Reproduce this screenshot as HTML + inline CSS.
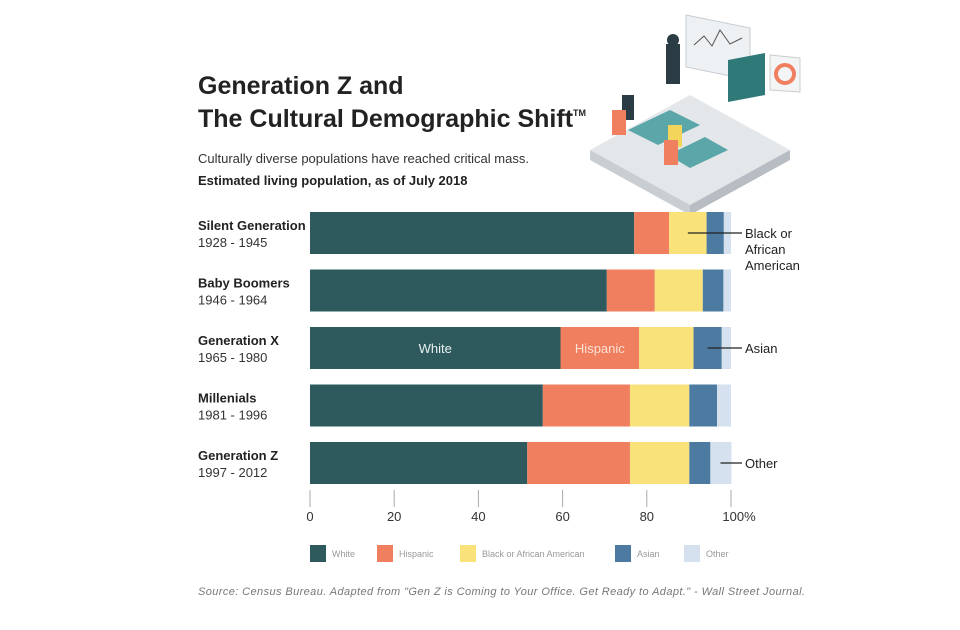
<!DOCTYPE html>
<html><head><meta charset="utf-8"><style>
body{margin:0;background:#fff;width:960px;height:630px;overflow:hidden;font-family:"Liberation Sans",sans-serif;}
svg{display:block}
</style></head><body>
<svg width="960" height="630" xmlns="http://www.w3.org/2000/svg">
<g id="illus">
<polygon points="590,150 690,95 790,150 690,205" fill="#e4e7ea"/>
<polygon points="590,150 690,205 690,215 590,160" fill="#c9ced3"/>
<polygon points="790,150 690,205 690,215 790,160" fill="#b7bdc3"/>
<polygon points="686,15 750,28 750,80 686,67" fill="#eef1f3" stroke="#c8cdd2"/>
<polyline points="694,45 704,36 712,46 720,30 730,44 742,38" fill="none" stroke="#555"/>
<polygon points="728,60 765,53 765,95 728,102" fill="#2f7a78"/>
<polygon points="770,55 800,58 800,92 770,90" fill="#f2f4f5" stroke="#ccc"/>
<circle cx="785" cy="74" r="9" fill="none" stroke="#ef7f5e" stroke-width="4"/>
<polygon points="628,130 670,110 700,125 658,145" fill="#5aa6a8"/>
<polygon points="668,155 705,137 728,150 690,168" fill="#5aa6a8"/>
<rect x="666" y="44" width="14" height="40" fill="#2b3c44"/>
<circle cx="673" cy="40" r="6" fill="#2b3c44"/>
<rect x="622" y="95" width="12" height="25" fill="#2b3c44"/>
<rect x="668" y="125" width="14" height="22" fill="#f3d55b"/>
<rect x="612" y="110" width="14" height="25" fill="#ef7f5e"/>
<rect x="664" y="140" width="14" height="25" fill="#ef7f5e"/>
</g>
<text x="198" y="94" font-size="25" font-weight="bold" fill="#222">Generation Z and</text>
<text x="198" y="127" font-size="25" font-weight="bold" fill="#222">The Cultural Demographic Shift<tspan font-size="9" dy="-11">TM</tspan></text>
<text x="198" y="163" font-size="13" fill="#333">Culturally diverse populations have reached critical mass.</text>
<text x="198" y="185" font-size="13" font-weight="bold" fill="#222">Estimated living population, as of July 2018</text>
<g id="bars"></g>
<g id="axis"></g>
<g id="legend"></g>
<text x="198" y="595" font-size="11" font-style="italic" fill="#777" textLength="607">Source: Census Bureau. Adapted from "Gen Z is Coming to Your Office. Get Ready to Adapt." - Wall Street Journal.</text>
</svg>
<script>
const generations=["Silent Generation","Baby Boomers","Generation X","Millenials","Generation Z"];
const years=["1928 - 1945","1946 - 1964","1965 - 1980","1981 - 1996","1997 - 2012"];
const seriesNames=["White","Hispanic","Black or African American","Asian","Other"];
const white=[77,70.5,59.5,55.3,51.6];
const hispanic=[8.3,11.4,18.7,20.7,24.4];
const black=[8.9,11.4,12.9,14.1,14.1];
const asian=[4.1,4.9,6.7,6.6,5.0];
const other=[1.7,1.8,2.2,3.3,5.0];
const ticks=[0,20,40,60,80,100];
const colors=["#2f5a5d","#ef7f5e","#f9e27a","#4d7aa0","#d5e1ef"];
const NS="http://www.w3.org/2000/svg";
const x=v=>310+v*4.21;
const y=i=>212+i*57.5;
const bh=42;
function el(t,a,p,txt){const e=document.createElementNS(NS,t);for(const k in a)e.setAttribute(k,a[k]);if(txt!==undefined)e.textContent=txt;p.appendChild(e);return e;}
const bars=document.getElementById('bars');
const series=[white,hispanic,black,asian,other];
generations.forEach((g,i)=>{
  const l=el('text',{x:198,y:y(i)+18,'font-size':13,'font-weight':'bold',fill:'#222'},bars,g);
  
  
  const yr=el('text',{x:198,y:y(i)+35,'font-size':13,fill:'#333'},bars,years[i]);
  
  
  let acc=0;
  series.forEach((s,k)=>{
    const r=el('rect',{x:x(acc),y:y(i),width:Math.max(0,x(acc+s[i])-x(acc)),height:bh,fill:colors[k]},bars);
    
    
    acc+=s[i];
  });
});
const wl=el('text',{x:x(white[2]/2),y:y(2)+26,'font-size':13,fill:'#e8f0f0','text-anchor':'middle'},bars,'White');


const hl=el('text',{x:x(white[2]+hispanic[2]/2),y:y(2)+26,'font-size':13,fill:'#fbe0d6','text-anchor':'middle'},bars,'Hispanic');


function annot(xs,row,lines,name){
  const yy=y(row)+21;
  const ln=el('line',{x1:xs,y1:yy,x2:742,y2:yy,stroke:'#222','stroke-width':1.2},bars);
  
  
  lines.forEach((t,j)=>{const tx=el('text',{x:745,y:yy+5+j*16,'font-size':13,fill:'#222'},bars,t);
    
    });
}
annot(x(white[0]+hispanic[0]+black[0]/2),0,["Black or","African","American"],'black');
annot(x(white[2]+hispanic[2]+black[2]+asian[2]/2),2,["Asian"],'asian');
annot(x(100-other[4]/2),4,["Other"],'other');
const ax=document.getElementById('axis');
ticks.forEach(t=>{
  const tl=el('line',{x1:x(t),y1:490,x2:x(t),y2:507,stroke:'#aaa','stroke-width':1},ax);
  
  
  const tt=el('text',{x:x(t)+(t===100?8:0),y:521,'font-size':13,fill:'#333','text-anchor':'middle'},ax,t===100?'100%':String(t));
  
  
});
const lg=document.getElementById('legend');
const lx=[310,377,460,615,684];
seriesNames.forEach((n,k)=>{
  const r=el('rect',{x:lx[k],y:545,width:16,height:17,fill:colors[k]},lg);
  
  
  const t=el('text',{x:lx[k]+22,y:557,'font-size':9,fill:'#999'},lg,n);
  
  
});
</script>
</body></html>
